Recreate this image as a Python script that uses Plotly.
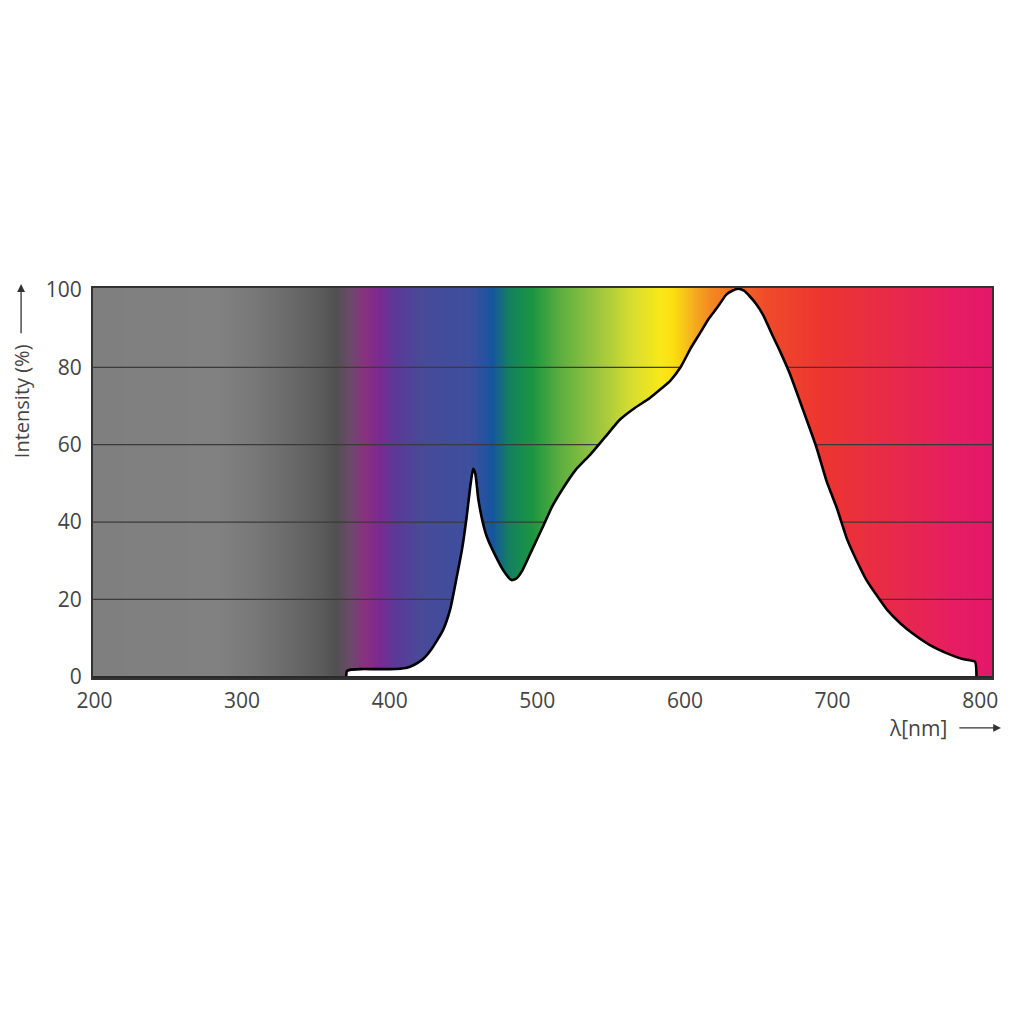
import plotly.graph_objects as go

# Spectrum curve (wavelength nm, relative intensity %)
wavelength = [370.5, 371, 373, 380, 390, 400, 411, 416, 422, 428, 436, 441, 445, 449, 452, 454.5, 456.5, 458,
              460, 463, 466, 472, 477, 482.5, 486, 490, 496, 504, 510, 517, 526, 536, 546, 556, 566, 576,
              584, 590, 597, 604, 610, 616, 622, 628, 632, 636, 640, 644, 648, 653, 659, 664, 671, 680,
              689, 696, 699, 703, 710, 717, 723, 730, 737, 746, 755, 766, 778, 788, 796.5, 797.5]
intensity = [0, 1.5, 1.8, 2.0, 2.0, 2.0, 2.3, 3.0, 4.4, 7.0, 12, 17.5, 25, 33, 41, 49, 53.8, 52.5,
             46, 40, 36, 31, 27.5, 25, 25.5, 27.6, 32.5, 39, 44, 48.5, 53.5, 57.5, 62, 66.5, 69.5, 72,
             74.5, 76.5, 80, 85, 88.7, 92.5, 95.5, 98.8, 99.8, 100.3, 99.8, 98.3, 96.5, 93.5, 88.5, 84.5, 78.4, 69,
             59.4, 50.5, 47.5, 43.5, 35.4, 29.5, 25, 21, 17.3, 13.8, 11.0, 8.2, 6.0, 4.6, 3.9, 0]

# Background spectrum gradient stops (nm, colour)
grad_nm = [199, 285, 310, 332, 355, 364, 373, 384, 393, 405, 422, 456, 470, 481, 497, 517, 540,
           563, 583, 592, 608, 617, 656, 694, 739, 784, 809]
grad_col = ["#7f7f7f", "#818181", "#777777", "#6a6a6a", "#5a5a5a", "#505050", "#6a4a6a", "#8a3080",
            "#7a2a90", "#5a3a98", "#484a98", "#3c4f9e", "#1555a0", "#148060", "#1a9640", "#60b040",
            "#98c440", "#d4dc30", "#f7e81a", "#fbe010", "#f4a820", "#f48a20", "#ef4a2a", "#ec3530",
            "#e82a48", "#e61d62", "#e4176a"]

x_ticks = [200, 300, 400, 500, 600, 700, 800]
y_ticks = [0, 20, 40, 60, 80, 100]
grid_vals = [20, 40, 60, 80]

XMIN, XMAX = 199, 808
lo, hi = grad_nm[0], grad_nm[-1]
colorscale = [[(n - lo) / (hi - lo), c] for n, c in zip(grad_nm, grad_col)]

bg_x = [XMIN + i * 0.5 for i in range(int((XMAX - XMIN) / 0.5) + 2)]

fig = go.Figure()
fig.add_trace(go.Heatmap(
    x=bg_x, y=[-1, 101], z=[bg_x],
    colorscale=colorscale, zmin=lo, zmax=hi, showscale=False, hoverinfo="skip"))

for g in grid_vals:
    fig.add_trace(go.Scatter(x=[XMIN, XMAX], y=[g, g], mode="lines",
                             line=dict(color="#3a3a3a", width=1.2), hoverinfo="skip"))

fig.add_trace(go.Scatter(x=wavelength, y=intensity, mode="lines", fill="tozeroy",
                         fillcolor="white", line=dict(color="black", width=2.6, shape="spline", smoothing=0.5)))

fig.add_shape(type="line", xref="paper", yref="y", x0=0, x1=1, y0=-0.3, y1=-0.3,
              line=dict(color="#2a2a2a", width=4), layer="above")

fig.add_annotation(xref="paper", yref="paper", x=-0.08, y=0.71, text="Intensity (%)",
                   textangle=-90, showarrow=False, font=dict(size=20, color="#444"),
                   xanchor="center", yanchor="middle")
# y arrow
fig.add_annotation(xref="x domain", yref="y domain", x=-0.08, y=1.01, ax=-0.08, ay=0.88,
                   axref="x domain", ayref="y domain", text="", showarrow=True, arrowhead=2,
                   arrowsize=1.2, arrowwidth=1.3, arrowcolor="#333")
fig.add_annotation(xref="paper", yref="paper", x=0.918, y=-0.128, text="λ[nm]",
                   showarrow=False, font=dict(size=21, color="#444"), xanchor="center", yanchor="middle")
fig.add_annotation(xref="x domain", yref="y domain", x=1.01, y=-0.128, ax=0.962, ay=-0.128,
                   axref="x domain", ayref="y domain", text="", showarrow=True, arrowhead=2,
                   arrowsize=1.2, arrowwidth=1.3, arrowcolor="#333")

fig.update_layout(
    width=1024, height=1024, showlegend=False,
    paper_bgcolor="white", plot_bgcolor="white",
    margin=dict(l=85, r=40, t=280, b=354),
    font=dict(family="Open Sans, Lato, sans-serif", size=21, color="#444"),
    xaxis=dict(range=[XMIN, XMAX], tickvals=x_ticks, ticks="", showgrid=False, zeroline=False,
               showline=True, mirror=True, linecolor="#333", linewidth=2,
               tickfont=dict(size=21, color="#444"), ticklabelstandoff=3),
    yaxis=dict(range=[-0.3, 100.5], tickvals=y_ticks, ticks="", showgrid=False, zeroline=False,
               showline=True, mirror=True, linecolor="#333", linewidth=2,
               tickfont=dict(size=21, color="#444"), ticklabelstandoff=5),
)

fig.write_html("out.html")
